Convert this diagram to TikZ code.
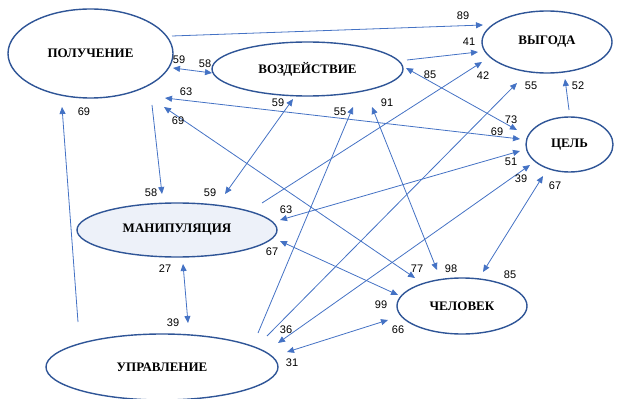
\documentclass[tikz,border=0pt]{standalone}
\usepackage{fontspec}
\setmainfont{Liberation Serif}
\newfontfamily\numfont{Liberation Sans}
\usetikzlibrary{arrows.meta,shapes.geometric,calc}
\definecolor{edgeblue}{HTML}{4472C4}
\definecolor{ringblue}{HTML}{2F5597}
\definecolor{manfill}{HTML}{EDF1F9}
\begin{document}
\begin{tikzpicture}[x=1pt,y=-1pt,
  concept/.style={ellipse, draw=ringblue, line width=1.4pt, fill=white, inner sep=0pt,
    font=\fontsize{13}{15}\selectfont\bfseries},
  link/.style={draw=edgeblue, line width=0.8pt, -{Triangle[length=7pt,width=6pt]}},
  both/.style={draw=edgeblue, line width=0.8pt, {Triangle[length=7pt,width=6pt]}-{Triangle[length=7pt,width=6pt]}},
  num/.style={font=\numfont\fontsize{11}{13}\selectfont, inner sep=0pt}]
\useasboundingbox (0,0) rectangle (617,398);

% concepts
\node[concept, minimum width=165pt, minimum height=89pt] (pol) at (90.5,53.5) {ПОЛУЧЕНИЕ};
\node[concept, minimum width=191pt, minimum height=54pt] (voz) at (307.5,69) {ВОЗДЕЙСТВИЕ};
\node[concept, minimum width=130pt, minimum height=62pt] (vyg) at (547,42) {ВЫГОДА};
\node[concept, minimum width=87pt, minimum height=55pt] (cel) at (569.5,144.5) {ЦЕЛЬ};
\node[concept, fill=manfill, minimum width=200pt, minimum height=54pt] (man) at (177,230) {МАНИПУЛЯЦИЯ};
\node[concept, minimum width=130pt, minimum height=56pt] (chel) at (462,306) {ЧЕЛОВЕК};
\node[concept, minimum width=232pt, minimum height=66pt] (upr) at (162,367) {УПРАВЛЕНИЕ};

% connectors
\draw[link] ($(pol.center)+(81.5,-17.5)$) -- ($(vyg.center)+(-64,-17)$);
\draw[both] ($(pol.center)+(82.5,14.5)$) -- ($(voz.center)+(-95.5,4)$);
\draw[link] ($(voz.center)+(99.5,-9)$) -- ($(vyg.center)+(-69,10)$);
\draw[both] ($(pol.center)+(74.5,44.5)$) -- ($(cel.center)+(-49.5,-5.5)$);
\draw[both] ($(pol.center)+(73.5,53.5)$) -- ($(chel.center)+(-47,-28)$);
\draw[link] ($(pol.center)+(61.5,51.5)$) -- ($(man.center)+(-15,-36)$);
\draw[both] ($(voz.center)+(-14.5,30)$) -- ($(man.center)+(48,-36)$);
\draw[link] ($(upr.center)+(-84,-45)$) -- ($(pol.center)+(-28.5,53.5)$);
\draw[both] ($(man.center)+(6,34)$) -- ($(upr.center)+(26,-44)$);
\draw[link] ($(cel.center)+(-0.5,-34.5)$) -- ($(vyg.center)+(18,37)$);
\draw[both] ($(voz.center)+(98.5,-1)$) -- ($(cel.center)+(-52.5,-14.5)$);
\draw[link] ($(man.center)+(85,-27)$) -- ($(vyg.center)+(-65,20)$);
\draw[link] ($(upr.center)+(96,-34)$) -- ($(voz.center)+(45.5,38)$);
\draw[link] ($(upr.center)+(105,-31)$) -- ($(vyg.center)+(-30,41)$);
\draw[both] ($(cel.center)+(-39.5,20.5)$) -- ($(upr.center)+(116,-24)$);
\draw[both] ($(cel.center)+(-26.5,31.5)$) -- ($(chel.center)+(21,-34)$);
\draw[both] ($(upr.center)+(125,-15)$) -- ($(chel.center)+(-74,14)$);
\draw[both] ($(man.center)+(103,11)$) -- ($(chel.center)+(-64,-11)$);
\draw[both] ($(voz.center)+(64.5,38)$) -- ($(chel.center)+(-25,-36)$);
\draw[both] ($(man.center)+(103,-10)$) -- ($(cel.center)+(-49.5,6.5)$);

% labels
\node[num] (l89) at (463,16) {89};
\node[num] (l59a) at (179,60) {59};
\node[num] (l58a) at (205,64) {58};
\node[num] (l41) at (469,42) {41};
\node[num] (l42) at (483,76) {42};
\node[num] (l63a) at (186,92) {63};
\node[num] (l69a) at (497,132) {69};
\node[num] (l69b) at (178,121) {69};
\node[num] (l77) at (417,269) {77};
\node[num] (l58b) at (151,193) {58};
\node[num] (l59b) at (278,103) {59};
\node[num] (l59c) at (210,193) {59};
\node[num] (l69c) at (84,112) {69};
\node[num] (l27) at (165,269) {27};
\node[num] (l39a) at (173,323) {39};
\node[num] (l52) at (578,86) {52};
\node[num] (l85a) at (430,75) {85};
\node[num] (l73) at (511,120) {73};
\node[num] (l55a) at (340,112) {55};
\node[num] (l55b) at (531,86) {55};
\node[num] (l91) at (387,103) {91};
\node[num] (l98) at (451,269) {98};
\node[num] (l39b) at (521,179) {39};
\node[num] (l36) at (286,330) {36};
\node[num] (l67a) at (555,186) {67};
\node[num] (l85b) at (510,275) {85};
\node[num] (l31) at (292,363) {31};
\node[num] (l66) at (398,330) {66};
\node[num] (l67b) at (272,252) {67};
\node[num] (l99) at (381,305) {99};
\node[num] (l63b) at (286,210) {63};
\node[num] (l51) at (511,162) {51};
\end{tikzpicture}
\end{document}
